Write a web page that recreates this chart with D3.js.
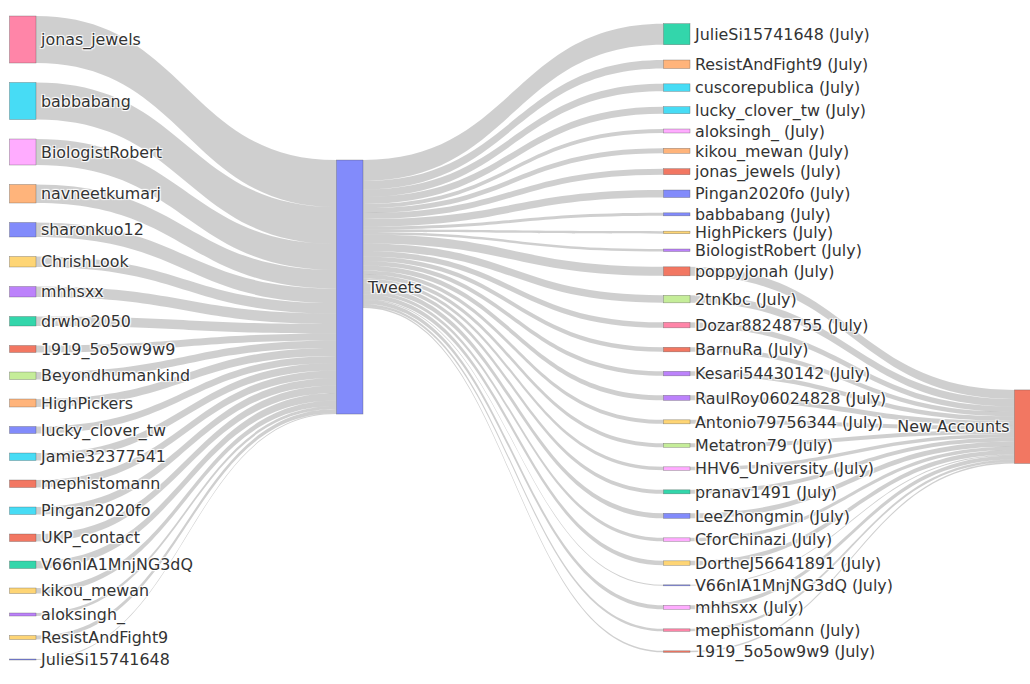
<!DOCTYPE html>
<html>
<head>
<meta charset="utf-8">
<script src="https://cdn.jsdelivr.net/npm/d3@7"></script>
<style>
  html, body { margin: 0; padding: 0; background: #fff; }
  svg text {
    font-family: "DejaVu Sans", Verdana, sans-serif;
    font-size: 15.9px;
    fill: #333;
    text-shadow: 1px 1px 1px #fff, 1px -1px 1px #fff, -1px 1px 1px #fff, -1px -1px 1px #fff;
  }
</style>
</head>
<body>
<svg id="chart" width="1030" height="684"></svg>
<script>
// ---------------- DATA ----------------
const sourceAccounts = [
  "jonas_jewels", "babbabang", "BiologistRobert", "navneetkumarj", "sharonkuo12",
  "ChrishLook", "mhhsxx", "drwho2050", "1919_5o5ow9w9", "Beyondhumankind",
  "HighPickers", "lucky_clover_tw", "Jamie32377541", "mephistomann", "Pingan2020fo",
  "UKP_contact", "V66nIA1MnjNG3dQ", "kikou_mewan", "aloksingh_", "ResistAndFight9",
  "JulieSi15741648"
];
const sourceTweets = [94, 74, 52, 37, 29, 21, 21, 19, 14, 15, 16, 14, 15, 15, 15, 15, 15, 11, 6, 8, 2];

const hubName = "Tweets";

const julyAccounts = [
  "JulieSi15741648 (July)", "ResistAndFight9 (July)", "cuscorepublica (July)", "lucky_clover_tw (July)",
  "aloksingh_ (July)", "kikou_mewan (July)", "jonas_jewels (July)", "Pingan2020fo (July)",
  "babbabang (July)", "HighPickers (July)", "BiologistRobert (July)", "poppyjonah (July)",
  "2tnKbc (July)", "Dozar88248755 (July)", "BarnuRa (July)", "Kesari54430142 (July)",
  "RaulRoy06024828 (July)", "Antonio79756344 (July)", "Metatron79 (July)", "HHV6_University (July)",
  "pranav1491 (July)", "LeeZhongmin (July)", "CforChinazi (July)", "DortheJ56641891 (July)",
  "V66nIA1MnjNG3dQ (July)", "mhhsxx (July)", "mephistomann (July)", "1919_5o5ow9w9 (July)"
];
const julyTweets = [42, 17, 15, 14, 8, 10, 12, 15, 6, 5, 5, 18, 15, 11, 9, 9, 10, 8, 8, 7, 8, 10, 7, 9, 2, 8, 5, 3];
// flow from each July account on to "New Accounts" (0 = none)
const julyToNew  = [0, 0, 0, 0, 0, 0, 0, 0, 0, 0, 0, 18, 15, 11, 9, 9, 10, 8, 8, 7, 8, 10, 7, 9, 2, 8, 5, 3];

const sinkName = "New Accounts";

// ---------------- STYLE ----------------
const palette = ["#636EFA", "#EF553B", "#00CC96", "#AB63FA", "#FFA15A", "#19D3F3", "#FF6692", "#B6E880", "#FF97FF", "#FECB52"];
const sourceColor = [6, 5, 8, 4, 0, 9, 3, 2, 1, 7, 4, 0, 5, 1, 5, 1, 2, 9, 3, 9, 0];
const julyColor   = [2, 4, 5, 5, 8, 4, 1, 0, 0, 9, 3, 1, 7, 6, 1, 3, 3, 9, 7, 8, 2, 0, 8, 9, 0, 8, 6, 1];
const hubColor = 0, sinkColor = 1;

// ---------------- LAYOUT ----------------
const W = 1030, H = 684;
const top0 = 16, bottom0 = 660, pad = 19.5, nodeW = 26.5;
const layerX = d3.scaleLinear().domain([0, 1, 2, 3]).range([9.5, 336.5, 663.5, 1014.5]);

const nodes = [];
const links = [];
const mk = (name, layer, color) => { const n = {name, layer, color, sourceLinks: [], targetLinks: []}; nodes.push(n); return n; };

const srcNodes = sourceAccounts.map((n, i) => mk(n, 0, palette[sourceColor[i]]));
const hub = mk(hubName, 1, palette[hubColor]);
const julyNodes = julyAccounts.map((n, i) => mk(n, 2, palette[julyColor[i]]));
const sink = mk(sinkName, 3, palette[sinkColor]);

function link(s, t, v) { const l = {source: s, target: t, value: v}; s.sourceLinks.push(l); t.targetLinks.push(l); links.push(l); }
srcNodes.forEach((n, i) => link(n, hub, sourceTweets[i]));
julyNodes.forEach((n, i) => link(hub, n, julyTweets[i]));
julyNodes.forEach((n, i) => { if (julyToNew[i] > 0) link(n, sink, julyToNew[i]); });

nodes.forEach(n => {
  n.value = Math.max(d3.sum(n.sourceLinks, l => l.value), d3.sum(n.targetLinks, l => l.value));
  n.x0 = layerX(n.layer); n.x1 = n.x0 + nodeW;
});

// value -> pixel scale set by the heaviest column (the sources)
const sumSrc = d3.sum(srcNodes, d => d.value);
const hScale = d3.scaleLinear().domain([0, sumSrc]).range([0, (bottom0 - top0) - (srcNodes.length - 1) * pad]);
nodes.forEach(n => { n.h = hScale(n.value); });
links.forEach(l => { l.width = hScale(l.value); });

// stack an outer column; padding between two pass-through nodes is kept,
// other gaps shrink (if needed) so the column fits, sharing the loss with the ends
function stackColumn(col) {
  const pass = n => n.sourceLinks.length > 0 && n.targetLinks.length > 0;
  let fixed = d3.sum(col, d => d.h), nFlex = 0;
  for (let i = 0; i < col.length - 1; i++) {
    if (pass(col[i]) && pass(col[i + 1])) fixed += pad; else nFlex++;
  }
  const room = bottom0 - top0 - fixed;
  let flex = pad, y = top0;
  if (nFlex && room < nFlex * pad) { flex = room / (nFlex + 1); y = top0 + flex / 2; }
  col.forEach((n, i) => {
    n.y0 = y; n.y1 = y + n.h;
    if (i < col.length - 1) y = n.y1 + ((pass(n) && pass(col[i + 1])) ? pad : flex);
  });
}
stackColumn(srcNodes);
stackColumn(julyNodes);

// inner nodes: placed where their links are flattest
function sourceOffset(l) { let c = 0; for (const k of l.source.sourceLinks) { if (k === l) break; c += k.width; } return c; }
function targetOffset(l) { let c = 0; for (const k of l.target.targetLinks) { if (k === l) break; c += k.width; } return c; }
function idealFromLeft(n) {
  let cum = 0, s = 0, w = 0;
  n.targetLinks.forEach(l => { s += (l.source.y0 + sourceOffset(l) - cum) * l.value; w += l.value; cum += l.width; });
  return s / w;
}
function idealFromRight(n) {
  let cum = 0, s = 0, w = 0;
  n.sourceLinks.forEach(l => { s += (l.target.y0 + targetOffset(l) - cum) * l.value; w += l.value; cum += l.width; });
  return s / w;
}
function placeInner(n) {
  const a = n.targetLinks.length, b = n.sourceLinks.length;
  let y;
  if (a && b) y = (idealFromLeft(n) + idealFromRight(n)) / 2;
  else if (a) y = idealFromLeft(n);
  else y = idealFromRight(n);
  n.y0 = y; n.y1 = y + n.h;
}
placeInner(hub);
placeInner(sink);

// link breadths
nodes.forEach(n => {
  n.sourceLinks.sort((p, q) => p.target.y0 - q.target.y0);
  n.targetLinks.sort((p, q) => p.source.y0 - q.source.y0);
});
nodes.forEach(n => {
  let y = n.y0;
  n.sourceLinks.forEach(l => { l.y0 = y + l.width / 2; y += l.width; });
  y = n.y0;
  n.targetLinks.forEach(l => { l.y1 = y + l.width / 2; y += l.width; });
});

function ribbon(l) {
  const x0 = l.source.x1, x1 = l.target.x0;
  const xi = d3.interpolateNumber(x0, x1), xa = xi(0.5), xb = xi(0.5);
  const a0 = l.y0 - l.width / 2, b0 = l.y0 + l.width / 2;
  const a1 = l.y1 - l.width / 2, b1 = l.y1 + l.width / 2;
  const p = d3.path();
  p.moveTo(x0, a0);
  p.bezierCurveTo(xa, a0, xb, a1, x1, a1);
  p.lineTo(x1, b1);
  p.bezierCurveTo(xb, b1, xa, b0, x0, b0);
  p.closePath();
  return p.toString();
}

// ---------------- DRAW ----------------
const svg = d3.select("#chart").attr("viewBox", `0 0 ${W} ${H}`);

svg.append("g").selectAll("path").data(links).join("path")
  .attr("d", ribbon)
  .attr("fill", "rgba(0,0,0,0.19)");

svg.append("g").selectAll("rect").data(nodes).join("rect")
  .attr("x", d => d.x0).attr("y", d => d.y0)
  .attr("width", d => d.x1 - d.x0).attr("height", d => Math.max(0.5, d.y1 - d.y0))
  .attr("fill", d => d.color).attr("fill-opacity", 0.8)
  .attr("stroke", "#444").attr("stroke-width", 0.5).attr("stroke-opacity", 0.6);

svg.append("g").selectAll("text").data(nodes).join("text")
  .attr("x", d => d.layer === 3 ? d.x0 - 5 : d.x1 + 5)
  .attr("y", d => (d.y0 + d.y1) / 2)
  .attr("dy", "0.36em")
  .attr("text-anchor", d => d.layer === 3 ? "end" : "start")
  .text(d => d.name);
</script>
</body>
</html>
